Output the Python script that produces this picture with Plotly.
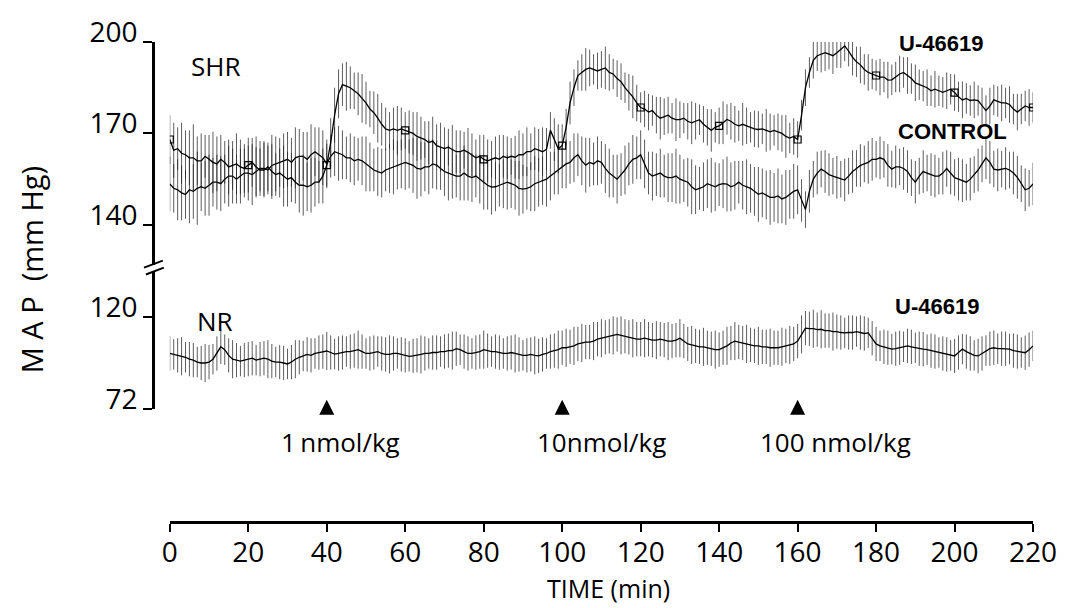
import plotly.graph_objects as go

# ---------------- data (MAP, mmHg, read every minute) ----------------
time_min = list(range(0, 221))

shr_u46619 = [
    168, 164.5, 165, 163.5, 163, 162, 162, 161, 161, 162.5,
    161.5, 160.5, 160, 161.5, 160.5, 159, 159.5, 160, 159, 158.5,
    159.6, 160.5, 159, 158, 158, 159, 157.5, 156.5, 157, 156,
    155, 155.5, 154, 153, 153, 152.5, 153, 154, 154, 156,
    159.6, 167, 176, 183, 186, 185.5, 185, 184, 183, 181.5,
    180, 178, 176.8, 175, 173, 171.5, 171, 171.5, 171, 171.5,
    171, 170.5, 170, 169, 168.5, 168, 167, 167.5, 166, 165.5,
    165, 165.5, 164.8, 164, 164, 164.5, 163.8, 163, 162, 162.5,
    161.5, 161, 161.5, 162, 161.5, 162.5, 162, 162.5, 162.2, 163,
    163, 164, 164, 165, 164.5, 164, 164.8, 171, 168, 165,
    166, 172, 180, 185, 189, 190, 191, 191.5, 191, 190.5,
    191, 191.5, 190, 189.5, 188, 187, 185, 183.5, 182, 180,
    178.5, 178, 177, 177.5, 176, 175, 175.5, 176, 175, 174.5,
    174.5, 175, 174, 173.5, 174, 174.5, 173, 172, 171, 172,
    172.5, 173.5, 174.6, 174, 173, 172.5, 173, 172.5, 172, 171.5,
    171.3, 171.5, 171, 170.5, 171, 170.5, 170, 169, 168.5, 169,
    168, 176, 185, 190, 194, 195.5, 196, 196.5, 196, 195.5,
    196.5, 197.5, 198.7, 197, 195, 193.5, 192.5, 191, 190, 189.5,
    189, 188.5, 188.5, 187.5, 187.6, 188.5, 189.5, 190, 189, 188,
    186.6, 186, 185.5, 185, 184, 184.5, 184, 183.5, 184, 184.5,
    183.4, 182, 181, 181.5, 180.8, 181, 180.8, 179, 177.5, 179,
    181, 180.5, 180, 180, 179.5, 178, 177, 178, 179, 178.5,
    178.5,
]
shr_u46619_sem = [
    8, 9, 7, 10, 8, 9, 11, 8, 9, 7, 8, 10, 9, 8, 7, 9, 8, 10, 9, 8,
    9, 8, 10, 7, 9, 8, 9, 7, 8, 10, 9, 8, 7, 9, 10, 8, 9, 8, 7, 9,
    7, 8, 9, 8, 7, 8, 7, 6, 7, 8, 7, 6, 7, 8, 7, 7, 6, 7, 8, 7,
    6, 7, 7, 8, 7, 6, 7, 8, 7, 8, 7, 6, 8, 7, 7, 6, 8, 7, 6, 7,
    8, 7, 6, 7, 8, 7, 7, 6, 7, 8, 7, 8, 6, 7, 7, 8, 7, 6, 7, 8,
    7, 6, 7, 6, 5, 6, 7, 6, 5, 6, 6, 7, 6, 5, 6, 6, 5, 6, 7, 6,
    5, 6, 6, 5, 6, 7, 6, 6, 5, 7, 6, 5, 6, 7, 6, 5, 6, 6, 7, 5,
    6, 7, 5, 6, 6, 5, 7, 6, 5, 6, 6, 5, 7, 6, 5, 6, 6, 7, 5, 6,
    6, 5, 6, 5, 6, 5, 6, 6, 5, 6, 5, 6, 5, 5, 6, 5, 6, 5, 6, 5,
    5, 6, 5, 6, 5, 5, 6, 5, 6, 5, 6, 5, 5, 6, 5, 6, 5, 5, 6, 5,
    6, 5, 6, 5, 5, 6, 5, 6, 5, 6, 5, 5, 6, 5, 6, 5, 6, 5, 5, 6,
    5,
]

shr_control = [
    153.4, 152, 151.5, 150.5, 150, 151.5, 151, 152, 152.5, 152,
    153, 154, 154, 153.5, 155, 156, 156, 155, 156, 157,
    157, 156.5, 157.5, 158.5, 158.5, 158, 159.5, 160, 160.5, 161,
    161.5, 160.5, 162, 162.5, 162.5, 161.5, 163, 164, 163, 162,
    160, 162.5, 164, 163.5, 163, 162, 162, 161, 161.5, 161,
    160, 159, 158, 157.5, 157, 158, 158.5, 159, 159.6, 160,
    160.5, 160, 159.5, 158.5, 158.3, 159, 159, 160, 159.6, 158.5,
    157.5, 157, 156.6, 156, 156, 157, 156, 155.5, 156, 155,
    154, 153, 152.4, 152.5, 153, 153.5, 154, 153.5, 153, 152,
    151.7, 152, 152.5, 153.5, 154, 154.5, 155, 156, 157, 158,
    159, 160, 160.5, 162, 163, 161, 159.6, 160.5, 160, 161,
    160.5, 158.5, 157, 156, 155, 156.5, 158, 160, 161.5, 162,
    163, 160, 157, 156, 156.5, 157, 156, 155.5, 155.5, 156,
    155, 154.5, 154, 152.5, 151.5, 152, 152.5, 153.5, 153, 152.5,
    153.2, 153.5, 153.4, 152.5, 153, 154, 153, 152.5, 152, 151,
    150, 150.5, 149.8, 149, 149, 149.5, 148.5, 149, 150, 151,
    151.5, 148, 145, 151, 155, 157, 158.3, 157.5, 156.5, 156,
    155.6, 155, 154.7, 156, 157.5, 158.5, 159.5, 160, 160.5, 161.5,
    161.5, 162, 161.5, 159.5, 158.3, 159, 159, 158.5, 157.5, 155.5,
    154, 156, 157.5, 157, 156.5, 156, 156, 157, 158.5, 157,
    155.5, 155, 154.5, 154, 155, 156.5, 158, 160, 162, 160.5,
    158.3, 158, 158.3, 158.5, 158, 157, 155.6, 153.5, 151.5, 152,
    153.4,
]
shr_control_sem = [
    9, 8, 10, 9, 8, 11, 9, 12, 8, 9, 10, 8, 9, 9, 8, 10, 9, 8, 9, 8,
    9, 10, 8, 9, 9, 8, 10, 9, 8, 9, 9, 8, 10, 9, 8, 9, 10, 8, 9, 9,
    8, 7, 8, 9, 8, 7, 8, 8, 7, 8, 9, 8, 7, 8, 8, 7, 8, 9, 8, 8,
    9, 8, 9, 10, 9, 8, 9, 8, 8, 7, 8, 9, 8, 7, 8, 9, 8, 8, 7, 8,
    9, 8, 9, 8, 7, 8, 9, 8, 8, 9, 8, 7, 8, 9, 8, 8, 9, 8, 7, 8,
    7, 8, 7, 8, 7, 8, 9, 8, 7, 8, 7, 8, 8, 7, 8, 7, 8, 7, 8, 7,
    8, 8, 7, 8, 7, 8, 7, 8, 8, 9, 8, 7, 8, 9, 8, 7, 8, 8, 9, 8,
    7, 8, 9, 8, 8, 7, 8, 9, 8, 8, 9, 8, 8, 9, 8, 9, 8, 9, 8, 9,
    8, 7, 6, 7, 6, 7, 6, 7, 7, 6, 7, 6, 7, 6, 7, 6, 7, 6, 7, 7,
    6, 7, 6, 7, 6, 7, 6, 7, 7, 6, 7, 6, 7, 6, 7, 7, 6, 7, 6, 7,
    6, 7, 7, 6, 7, 6, 7, 6, 7, 7, 6, 7, 6, 7, 6, 7, 7, 6, 7, 6,
    7,
]

nr_u46619 = [
    101, 100.5, 100, 99.5, 99, 98, 97.5, 96.5, 96, 96,
    96.5, 98, 101, 104.5, 103, 100, 98, 97.5, 97, 97.5,
    98, 98.5, 97.5, 98, 98.5, 98, 97, 96.5, 96.5, 96,
    95.5, 96.5, 98, 99, 99.7, 100.5, 100, 101, 101.5, 102,
    102.3, 101.5, 100.7, 101, 101.5, 102, 102, 102.5, 103, 102,
    101, 101, 101.5, 102, 101, 100.5, 100.5, 101, 101, 100.5,
    100, 99.5, 99.7, 100, 100.5, 101, 101, 101.5, 101.5, 102,
    102, 102.5, 102.5, 103.5, 103, 102, 101, 101, 101.5, 102,
    103, 102.5, 102, 102, 101.5, 101, 101, 101.5, 101, 100.5,
    100, 100, 100.5, 100, 99.7, 100.5, 101, 102, 102.5, 103,
    104, 104, 104.5, 105, 106, 106.5, 107, 107, 107.5, 108.5,
    109, 109.5, 110, 110.5, 111, 110.5, 110, 109.5, 109, 108.5,
    108.5, 109, 108.5, 108, 108, 108.5, 108, 107.5, 107.5, 108,
    109, 107.5, 106, 105.5, 105, 104.5, 104.5, 104, 103.5, 103,
    103, 104, 105, 106.5, 107.5, 107, 106.5, 106, 105.5, 105,
    105, 104.5, 104.5, 104, 104, 104, 104.5, 105, 105.5, 106,
    107.5, 111, 114.3, 114, 114, 113.5, 113.7, 113, 113, 112.5,
    112.5, 112, 111.8, 112, 112, 112.5, 112, 111.5, 111.8, 109,
    106, 105, 104.5, 104, 103.3, 103.5, 104, 104.5, 105, 104.5,
    104, 103.5, 103.3, 103, 102.5, 102, 101.5, 101, 100.5, 100,
    99.7, 101.5, 103.3, 102, 101, 100, 99.7, 101, 102.5, 103.5,
    104, 103.5, 103.5, 103.5, 103.3, 102.5, 102, 101.5, 101.4, 103,
    105,
]
nr_u46619_sem = [
    9, 8, 9, 10, 8, 9, 9, 8, 9, 10, 9, 8, 9, 9, 8, 9, 10, 9, 8, 9,
    9, 9, 8, 9, 9, 10, 9, 8, 9, 9, 8, 9, 10, 9, 8, 9, 9, 8, 9, 9,
    10, 9, 8, 9, 9, 8, 9, 9, 10, 9, 8, 9, 9, 8, 9, 9, 10, 9, 8, 9,
    9, 8, 9, 9, 10, 9, 8, 9, 9, 8, 9, 9, 10, 9, 8, 9, 9, 8, 9, 9,
    10, 9, 8, 9, 9, 8, 9, 9, 10, 9, 8, 9, 9, 10, 9, 9, 8, 9, 9, 10,
    9, 10, 9, 10, 9, 10, 9, 9, 10, 9, 10, 9, 9, 10, 9, 10, 9, 9, 10, 9,
    9, 10, 9, 9, 10, 9, 9, 10, 9, 9, 10, 9, 9, 10, 9, 9, 10, 9, 9, 10,
    9, 9, 10, 9, 10, 9, 9, 10, 9, 9, 10, 9, 9, 10, 9, 9, 10, 9, 10, 9,
    9, 10, 9, 9, 10, 9, 10, 9, 9, 10, 9, 9, 8, 9, 9, 8, 9, 9, 8, 9,
    9, 8, 9, 9, 8, 9, 9, 8, 9, 9, 8, 9, 9, 8, 9, 9, 8, 9, 9, 8,
    9, 9, 8, 9, 9, 8, 9, 9, 8, 9, 9, 8, 9, 9, 8, 9, 9, 8, 9, 9,
    8,
]

x_ticks = list(range(0, 221, 20))
shr_ticks = [140, 170, 200]
nr_ticks = [72, 120]
doses_min = [40, 100, 160]
dose_labels = ["1\u2009nmol/kg", "10nmol/kg", "100 nmol/kg"]

for arr in (shr_u46619, shr_u46619_sem, shr_control, shr_control_sem, nr_u46619, nr_u46619_sem):
    assert len(arr) == len(time_min), len(arr)

# ---------------- layout helpers ----------------
W, H = 1076, 608
L, R, T, B = 140, 30, 39, 86
PW, PH = W - L - R, H - T - B


def px(x):
    return (x - L) / PW


def py(y):
    return 1 - (y - T) / PH


FONT = "Open Sans"
BOLD = "Liberation Sans"

fig = go.Figure()

err_style = dict(type="data", color="rgba(30,30,30,0.72)", thickness=1, width=0)

fig.add_trace(go.Scatter(
    x=time_min, y=shr_control, yaxis="y", mode="lines",
    line=dict(color="black", width=1.3),
    error_y=dict(array=shr_control_sem, **err_style), showlegend=False))
fig.add_trace(go.Scatter(
    x=time_min, y=shr_u46619, yaxis="y", mode="lines",
    line=dict(color="black", width=1.3),
    error_y=dict(array=shr_u46619_sem, **err_style), showlegend=False))
fig.add_trace(go.Scatter(
    x=time_min[::20], y=shr_u46619[::20], yaxis="y", mode="markers",
    marker=dict(symbol="square-open", size=7, color="black", line=dict(width=1.2)),
    showlegend=False))
fig.add_trace(go.Scatter(
    x=time_min, y=nr_u46619, yaxis="y2", mode="lines",
    line=dict(color="black", width=1.3),
    error_y=dict(array=nr_u46619_sem, **err_style), showlegend=False))

axis_common = dict(
    showline=True, linecolor="black", linewidth=2.5, ticks="outside",
    tickcolor="black", tickwidth=1.5, showgrid=False, zeroline=False,
)

fig.update_layout(
    width=W, height=H, autosize=False,
    margin=dict(l=L, r=R, t=T, b=B, pad=0),
    plot_bgcolor="white", paper_bgcolor="white",
    font=dict(family=FONT, color="black"),
    xaxis=dict(
        domain=[px(170), px(1039)], range=[0, 220], anchor="free", position=0,
        tickvals=x_ticks, ticklen=8, tickfont=dict(size=28, family=FONT),
        ticklabelstandoff=-3, **axis_common),
    yaxis=dict(
        domain=[py(263), py(39)], range=[200 - (263 - 39) / ((223 - 39) / 60), 200],
        anchor="free", position=px(153), tickvals=shr_ticks, ticklen=9,
        tickfont=dict(size=28, family=FONT), ticklabelshift=-10, ticklabelstandoff=0,
        **axis_common),
    yaxis2=dict(
        domain=[py(408), py(270)], range=[72, 120 + (316 - 270) / ((408 - 316) / 48)],
        anchor="free", position=px(153), tickvals=nr_ticks, ticklen=9,
        tickfont=dict(size=28, family=FONT), ticklabelshift=-10, ticklabelstandoff=0,
        **axis_common),
)

# axis break marks
for (x0, y0, x1, y1) in [(144, 266, 163, 259), (146, 273, 164, 266)]:
    fig.add_shape(type="line", xref="paper", yref="paper",
                  x0=px(x0), y0=py(y0), x1=px(x1), y1=py(y1),
                  line=dict(color="black", width=2))

ann = []


def text(x, y, s, size, family=FONT, bold=False, xanchor="center", angle=0):
    ann.append(dict(
        xref="paper", yref="paper", x=px(x), y=py(y), text=(f"<b>{s}</b>" if bold else s),
        showarrow=False, xanchor=xanchor, yanchor="middle", textangle=angle,
        font=dict(size=size, family=family, color="black")))


text(216, 63, "SHR", 26)
text(215, 320, "NR", 26)
text(946, 41, "U-46619", 22, BOLD, bold=True)
text(958, 129, "CONTROL", 22, BOLD, bold=True)
text(942, 305, "U-46619", 22, BOLD, bold=True)
text(612, 588, "TIME (min)", 25)
text(31, 268, "M A P \u00a0(mm Hg)", 29, angle=-90)

for d, lab, left in zip(doses_min, dose_labels, [280, 538, 762]):
    ann.append(dict(
        xref="x", yref="paper", x=d, y=py(399), text="", showarrow=True,
        ax=0, ay=12, arrowhead=2, arrowsize=1.0, arrowwidth=3, arrowcolor="black"))
    text(left, 441, lab, 26, xanchor="left")

fig.update_layout(annotations=ann)

fig.write_html("out.html", config={"displayModeBar": False},
               post_script="document.body.style.margin='0px';")
